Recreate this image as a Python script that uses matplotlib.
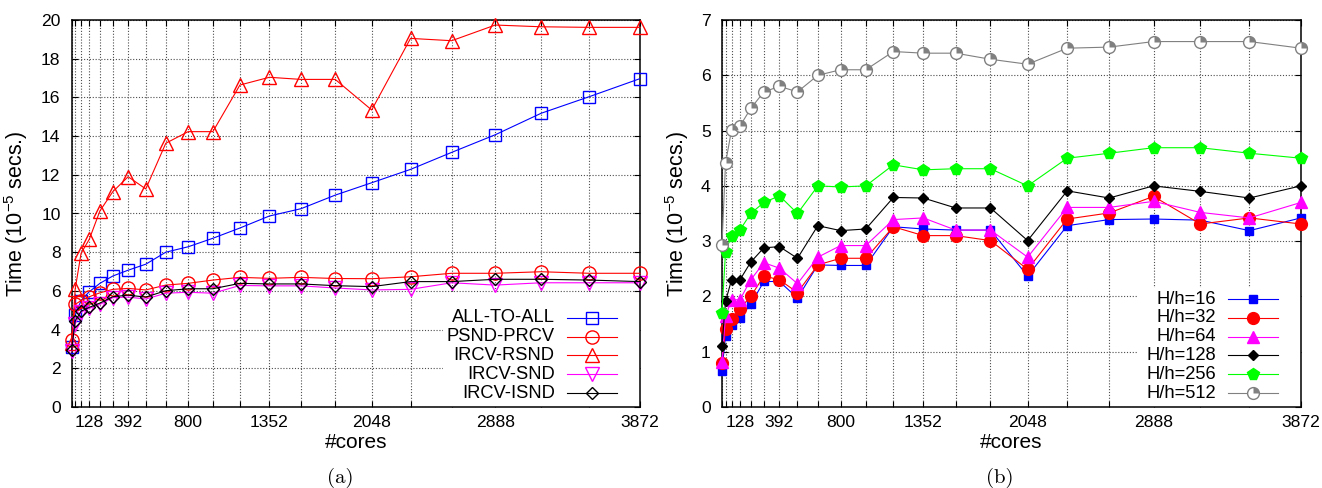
import matplotlib
matplotlib.use("Agg")
import matplotlib.pyplot as plt
from matplotlib.path import Path
from matplotlib.patches import Rectangle

plt.rcParams['font.family'] = ['Liberation Sans', 'DejaVu Sans']

cores = [8, 32, 72, 128, 200, 288, 392, 512, 648, 800, 968, 1152, 1352,
         1568, 1800, 2048, 2312, 2592, 2888, 3200, 3528, 3872]
labeled = [128, 392, 800, 1352, 2048, 2888, 3872]

# (a)
all_to_all = [3.1, 4.75, 5.5, 5.96, 6.39, 6.77, 7.07, 7.38, 8.0, 8.28, 8.72,
              9.25, 9.87, 10.25, 10.95, 11.59, 12.28, 13.16, 14.07, 15.18, 16.04, 16.97]
psnd_prcv = [3.45, 5.3, 5.5, 5.7, 5.9, 6.08, 6.13, 6.05, 6.3, 6.39, 6.56,
             6.7, 6.65, 6.7, 6.64, 6.63, 6.73, 6.91, 6.91, 6.99, 6.91, 6.91]
ircv_rsnd = [3.3, 6.1, 7.94, 8.67, 10.13, 11.13, 11.9, 11.27, 13.63, 14.23, 14.23,
             16.64, 17.04, 16.93, 16.93, 15.35, 19.05, 18.93, 19.74, 19.65, 19.62, 19.62]
ircv_snd = [2.9, 4.3, 4.9, 5.1, 5.3, 5.65, 5.68, 5.58, 5.88, 5.93, 5.88,
            6.28, 6.26, 6.26, 6.15, 6.05, 6.08, 6.42, 6.3, 6.42, 6.42, 6.42]
ircv_isnd = [2.95, 4.45, 4.95, 5.15, 5.37, 5.7, 5.78, 5.68, 6.01, 6.11, 6.11,
             6.39, 6.36, 6.36, 6.27, 6.22, 6.48, 6.48, 6.6, 6.6, 6.56, 6.48]

# (b)
h16 = [0.66, 1.28, 1.49, 1.61, 1.86, 2.27, 2.27, 1.97, 2.57, 2.56, 2.56,
       3.26, 3.22, 3.2, 3.2, 2.37, 3.28, 3.39, 3.4, 3.38, 3.19, 3.42]
h32 = [0.8, 1.41, 1.6, 1.78, 2.0, 2.37, 2.3, 2.07, 2.57, 2.69, 2.69,
       3.26, 3.1, 3.1, 3.01, 2.49, 3.4, 3.51, 3.81, 3.31, 3.42, 3.31]
h64 = [0.82, 1.64, 1.94, 1.94, 2.3, 2.61, 2.51, 2.23, 2.71, 2.92, 2.92,
       3.39, 3.42, 3.2, 3.2, 2.71, 3.61, 3.61, 3.72, 3.52, 3.42, 3.7]
h128 = [1.11, 1.91, 2.3, 2.3, 2.62, 2.88, 2.9, 2.69, 3.28, 3.19, 3.22,
        3.79, 3.78, 3.6, 3.6, 3.01, 3.91, 3.78, 4.0, 3.9, 3.78, 4.0]
h256 = [1.7, 2.81, 3.1, 3.2, 3.5, 3.7, 3.82, 3.5, 4.0, 3.98, 4.0,
        4.38, 4.29, 4.31, 4.31, 4.0, 4.5, 4.59, 4.69, 4.69, 4.59, 4.5]
h512 = [2.93, 4.41, 5.01, 5.08, 5.4, 5.7, 5.8, 5.7, 6.0, 6.1, 6.1,
        6.43, 6.4, 6.4, 6.29, 6.2, 6.49, 6.51, 6.61, 6.61, 6.61, 6.49]

wedge = Path.wedge(0, 90)

series_a = [
    ("ALL-TO-ALL", all_to_all, dict(color="#0000ff", marker="s", ms=8.5, mfc="none")),
    ("PSND-PRCV", psnd_prcv, dict(color="#ff0000", marker="o", ms=9.5, mfc="none")),
    ("IRCV-RSND", ircv_rsnd, dict(color="#ff0000", marker="^", ms=9.5, mfc="none")),
    ("IRCV-SND", ircv_snd, dict(color="#ff00ff", marker="v", ms=9.5, mfc="none")),
    ("IRCV-ISND", ircv_isnd, dict(color="#000000", marker="D", ms=6.2, mfc="none")),
]
series_b = [
    ("H/h=16", h16, dict(color="#0000ff", marker="s", ms=6)),
    ("H/h=32", h32, dict(color="#ff0000", marker="o", ms=8.5)),
    ("H/h=64", h64, dict(color="#ff00ff", marker="^", ms=8)),
    ("H/h=128", h128, dict(color="#000000", marker="D", ms=5.5)),
    ("H/h=256", h256, dict(color="#00ff00", marker="p", ms=8.5)),
    ("H/h=512", h512, dict(color="#808080", marker="o", ms=8.5, mfc="white")),
]

fig = plt.figure(figsize=(13.22, 4.88), dpi=100)
ax1 = fig.add_axes([0.0542, 0.166, 0.4299, 0.793])
ax2 = fig.add_axes([0.5461, 0.166, 0.438, 0.793])


def style_axes(ax, ymax, ystep):
    ax.set_xlim(8, 3872)
    ax.set_ylim(0, ymax)
    ax.set_xticks(cores)
    ax.set_xticklabels([str(c) if c in labeled else "" for c in cores])
    ax.set_yticks(range(0, ymax + 1, ystep))
    ax.tick_params(direction="in", length=4, width=0.8, top=True, right=True,
                   labelsize=12.6, pad=6)
    ax.tick_params(axis="y", pad=8)
    ax.grid(True, linestyle=(0, (1, 1.6)), color="0.3", linewidth=0.8)
    for s in ax.spines.values():
        s.set_linewidth(1.1)
    ax.set_xlabel("#cores", fontsize=15)
    ax.set_ylabel(r"Time (10$^{\mathregular{-5}}$ secs.)", fontsize=15.5)
    ax.xaxis.set_label_coords(0.5, -0.068)


def draw_legend(ax, series, ys, top, xleft, xt, x1, x2):
    ax.add_patch(Rectangle((xleft, 0), 1 - xleft, top, transform=ax.transAxes,
                           facecolor="white", edgecolor="none", zorder=2.5))
    for (name, _, kw), y in zip(series, ys):
        ax.text(xt, y, name, transform=ax.transAxes, ha="right", va="center",
                fontsize=13.2, zorder=4)
        ax.plot([x1, x2], [y, y], transform=ax.transAxes, color=kw["color"],
                lw=0.8, zorder=4, clip_on=False)
        ax.plot([(x1 + x2) / 2], [y], transform=ax.transAxes, linestyle="none",
                marker=kw["marker"], ms=kw["ms"], color=kw["color"],
                mfc=kw.get("mfc", kw["color"]), mew=1.0, zorder=4, clip_on=False)
        if name == "H/h=512":
            ax.plot([(x1 + x2) / 2], [y], transform=ax.transAxes, linestyle="none",
                    marker=wedge, ms=kw["ms"], color=kw["color"], mew=0,
                    zorder=4.1, clip_on=False)


style_axes(ax1, 20, 2)
style_axes(ax2, 7, 1)
ax1.yaxis.set_label_coords(-0.073, 0.5)
ax2.yaxis.set_label_coords(-0.053, 0.5)

for name, vals, kw in series_a:
    ax1.plot(cores, vals, lw=0.8, mew=1.0, zorder=3, clip_on=False, **kw)
for name, vals, kw in series_b:
    ax2.plot(cores, vals, lw=0.8, mew=1.0, zorder=3, clip_on=False, **kw)
    if name == "H/h=512":
        ax2.plot(cores, vals, linestyle="none", marker=wedge, ms=kw["ms"],
                 color=kw["color"], mew=0, zorder=3.1, clip_on=False)

draw_legend(ax1, series_a, [0.230, 0.181, 0.134, 0.085, 0.036],
            0.295, 0.653, 0.850, 0.871, 0.959)
draw_legend(ax2, series_b, [0.279, 0.230, 0.181, 0.134, 0.085, 0.036],
            0.307, 0.718, 0.853, 0.874, 0.960)

fig.text(0.257, 0.02, "(a)", fontsize=15, family="cmr10", ha="center", va="center")
fig.text(0.7565, 0.02, "(b)", fontsize=15, family="cmr10", ha="center", va="center")

fig.savefig("out.png", dpi=100)
